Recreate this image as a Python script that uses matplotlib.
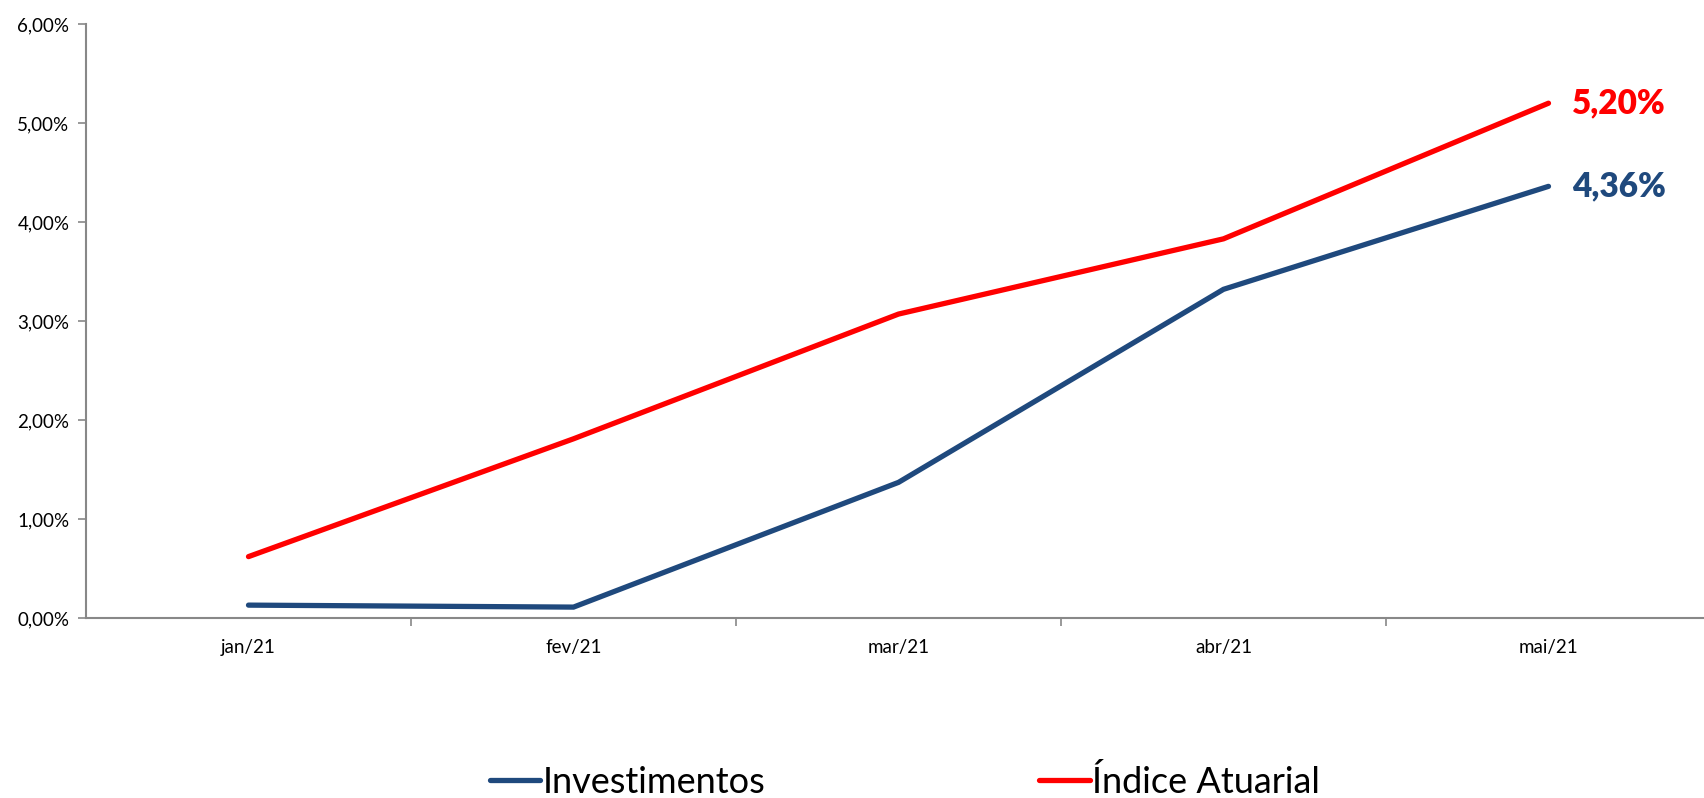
import matplotlib
matplotlib.use("Agg")
import matplotlib.pyplot as plt
from matplotlib.ticker import FixedLocator, FuncFormatter

categories = ["jan/21", "fev/21", "mar/21", "abr/21", "mai/21"]
investimentos = [0.13, 0.11, 1.37, 3.32, 4.36]
indice_atuarial = [0.62, 1.81, 3.07, 3.83, 5.20]
yticks = [0, 1, 2, 3, 4, 5, 6]

plt.rcParams['font.family'] = ['Lato', 'DejaVu Sans']

fig = plt.figure(figsize=(17.04, 7.98), dpi=100)
ax = fig.add_axes([86/1704, (798-618)/798, 1625/1704, (618-24)/798])

x = list(range(len(categories)))
blue = "#1F497D"
red = "#FF0000"
ax.plot(x, investimentos, color=blue, lw=3.8, solid_capstyle='round', solid_joinstyle='miter', label="Investimentos")
ax.plot(x, indice_atuarial, color=red, lw=3.8, solid_capstyle='round', solid_joinstyle='miter', label="Índice Atuarial")

fmt = lambda v: f"{v:.2f}%".replace(".", ",")
ax.annotate(fmt(indice_atuarial[-1]), (x[-1], indice_atuarial[-1]), xytext=(17, 0), textcoords='offset points',
            color=red, fontsize=24, fontweight='heavy', va='center', ha='left')
ax.annotate(fmt(investimentos[-1]), (x[-1], investimentos[-1]), xytext=(17, 0), textcoords='offset points',
            color=blue, fontsize=24, fontweight='heavy', va='center', ha='left')

ax.set_xlim(-0.5, len(categories) - 0.5)
ax.set_ylim(0, 6)
ax.set_yticks(yticks)
ax.yaxis.set_major_formatter(FuncFormatter(lambda v, p: fmt(v)))
ax.set_xticks(x)
ax.set_xticklabels(categories)
ax.xaxis.set_minor_locator(FixedLocator([i + 0.5 for i in x[:-1]]))
ax.tick_params(axis='x', which='major', length=0, pad=15, labelsize=13.5)
ax.tick_params(axis='x', which='minor', length=6, width=1.2, color="#888888", direction='out')
ax.tick_params(axis='y', length=6, width=1.2, color="#888888", labelsize=13.5, pad=6)

for s in ['top', 'right']:
    ax.spines[s].set_visible(False)
for s in ['left', 'bottom']:
    ax.spines[s].set_color("#888888")
    ax.spines[s].set_linewidth(1.5)

fig.legend(loc='center', bbox_to_anchor=(0.531, (798-782)/798), ncol=2, frameon=False,
           fontsize=26, handlelength=1.4, handletextpad=0.05, columnspacing=7.6)

fig.savefig("out.png", dpi=100)
